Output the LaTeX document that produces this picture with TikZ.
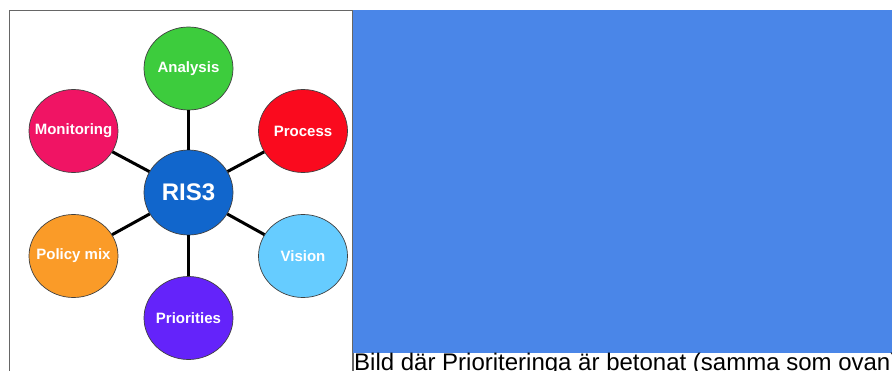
\documentclass[tikz,border=0pt]{standalone}
\usepackage{fontspec}
\setmainfont{Liberation Sans}
\usetikzlibrary{positioning,shapes.geometric}

\definecolor{analysisgreen}{RGB}{61,204,61}
\definecolor{monitorpink}{RGB}{240,20,100}
\definecolor{processred}{RGB}{250,10,30}
\definecolor{hubblue}{RGB}{17,102,204}
\definecolor{policyorange}{RGB}{250,155,40}
\definecolor{visionblue}{RGB}{102,204,255}
\definecolor{priopurple}{RGB}{100,35,250}
\definecolor{slideblue}{RGB}{74,134,232}

% label of fixed-size circle
\newcommand{\topiclabel}[1]{\makebox[0pt]{#1}}

\begin{document}
\begin{tikzpicture}[x=1pt,y=1pt,on grid,node distance=125pt,
                    topic node/.style={ellipse,draw=black!75,line width=0.7pt,
                        minimum width=89pt,minimum height=83pt,inner sep=0pt,
                        text=white,font=\fontsize{15}{16}\selectfont\bfseries}]

        \useasboundingbox (0,0) rectangle (892,-370);
        \fill[white] (0,0) rectangle (892,-370);

        % Frame and blue panel
        \draw[black!60,line width=1.2pt] (9.5,-10.5) rectangle (353,-380);
        \fill[slideblue] (353,-10) rectangle (892,-353);

        % Define vertices
        \node[topic node,fill=hubblue,minimum height=85pt,
              font=\fontsize{24}{26}\selectfont\bfseries] (RIS3) at (188.5,-192.5) {\topiclabel{RIS3}};
        \node[topic node,fill=analysisgreen] (Analysis) [above=124pt of RIS3] {\topiclabel{Analysis}};
        \node[topic node,fill=priopurple] (Priorities) [below=125.5pt of RIS3] {\topiclabel{Priorities}};
        \node[topic node,fill=monitorpink] (Monitoring) [above left=61.5pt and 115pt of RIS3] {\topiclabel{Monitoring}};
        \node[topic node,fill=processred] (Process) [above right=61.5pt and 114.5pt of RIS3] {\topiclabel{Process}};
        \node[topic node,fill=policyorange] (Policy) [below left=63.5pt and 115pt of RIS3] {\topiclabel{Policy mix}};
        \node[topic node,fill=visionblue] (Vision) [below right=63.5pt and 114.5pt of RIS3] {\topiclabel{Vision}};

        % Draw edges
        \path[line width=3pt,black]
            (RIS3) edge (Analysis)
            (RIS3) edge (Priorities)
            (RIS3) edge (Monitoring)
            (RIS3) edge (Process)
            (RIS3) edge (Policy)
            (RIS3) edge (Vision);

        % Caption
        \node[anchor=base west,inner sep=0pt,font=\fontsize{24}{28}\selectfont] (caption)
            at (354,-370.5) {Bild där Prioriteringa är betonat (samma som ovan)};

        \end{tikzpicture}
\end{document}
